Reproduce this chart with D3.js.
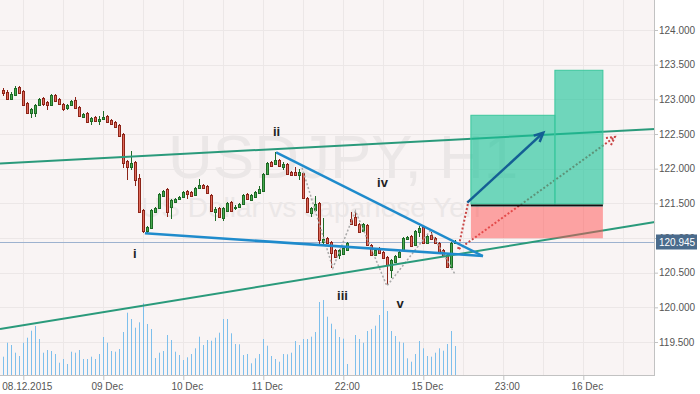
<!DOCTYPE html>
<html>
<head>
<meta charset="utf-8">
<script src="https://d3js.org/d3.v7.min.js"></script>
<style>
  html, body { margin: 0; padding: 0; background: #fff; }
  svg { display: block; font-family: "Liberation Sans", Arial, sans-serif; }
</style>
</head>
<body>
<svg id="chart" width="700" height="394"></svg>
<script>
// USDJPY H1 candles, index 0..113
const candleOpen = [
  123.135,123.106,123.005,123.063,123.178,123.120,122.947,122.803,122.803,122.918,
  123.019,122.962,122.918,123.063,123.005,122.933,122.875,122.918,122.991,122.890,
  122.745,122.803,122.688,122.745,122.688,122.717,122.760,122.702,122.673,122.630,
  122.500,122.111,122.024,122.096,121.866,121.404,121.101,121.144,121.375,121.433,
  121.606,121.707,121.447,121.519,121.563,121.592,121.678,121.664,121.620,121.721,
  121.765,121.750,121.620,121.375,121.433,121.289,121.390,121.519,121.433,121.447,
  121.490,121.635,121.548,121.592,121.649,121.678,121.923,122.096,122.067,122.125,
  122.024,122.067,121.952,121.952,121.909,121.938,121.577,121.361,121.404,121.505,
  120.942,121.000,120.942,120.827,120.755,120.769,120.827,121.274,121.303,121.202,
  121.101,121.187,120.899,120.755,120.856,120.798,120.726,120.539,120.654,120.726,
  120.827,120.986,121.029,120.899,121.087,121.159,120.928,121.043,121.000,120.928,
  120.827,120.755,120.582,120.928
];
const candleHigh = [
  123.164,123.135,123.106,123.193,123.193,123.135,122.962,122.875,122.933,123.019,
  123.034,122.976,123.077,123.077,123.019,122.947,122.933,122.991,123.034,122.904,
  122.803,122.818,122.745,122.760,122.760,122.832,122.774,122.717,122.688,122.645,
  122.515,122.125,122.255,122.111,121.923,121.418,121.173,121.418,121.447,121.649,
  121.693,121.721,121.563,121.577,121.606,121.678,121.693,121.678,121.736,121.851,
  121.779,121.765,121.635,121.447,121.447,121.447,121.519,121.534,121.476,121.505,
  121.635,121.649,121.635,121.678,121.750,121.938,122.096,122.111,122.240,122.140,
  122.096,122.082,121.967,122.024,121.995,121.952,121.592,121.447,121.606,121.519,
  121.289,121.015,120.957,120.841,120.841,120.870,120.942,121.375,121.375,121.216,
  121.216,121.202,120.914,120.841,120.870,120.812,120.740,120.697,120.755,120.812,
  121.015,121.029,121.043,121.115,121.173,121.173,121.043,121.087,121.015,120.942,
  120.841,120.769,120.942,120.971
];
const candleLow = [
  123.048,122.991,122.991,123.048,123.077,122.904,122.789,122.731,122.745,122.904,
  122.904,122.846,122.904,122.962,122.918,122.832,122.846,122.904,122.861,122.745,
  122.731,122.659,122.630,122.673,122.630,122.702,122.659,122.630,122.587,122.457,
  122.010,121.837,121.981,121.750,121.361,121.072,121.072,121.130,121.361,121.418,
  121.592,121.303,121.274,121.505,121.548,121.577,121.563,121.592,121.606,121.707,
  121.707,121.635,121.375,121.245,121.289,121.245,121.375,121.375,121.404,121.433,
  121.476,121.548,121.534,121.577,121.635,121.664,121.909,122.024,122.053,122.024,
  121.981,121.909,121.894,121.894,121.837,121.563,121.361,121.303,121.390,120.899,
  120.899,120.914,120.567,120.712,120.697,120.755,120.812,121.187,121.173,121.072,
  121.087,120.885,120.740,120.740,120.769,120.697,120.322,120.423,120.640,120.712,
  120.812,120.971,120.870,120.885,121.015,120.914,120.914,120.971,120.914,120.784,
  120.740,120.567,120.567,120.914
];
const candleClose = [
  123.092,123.005,123.077,123.164,123.092,122.918,122.803,122.861,122.918,123.005,
  122.933,122.918,123.063,122.976,122.933,122.861,122.918,122.976,122.875,122.760,
  122.789,122.673,122.731,122.688,122.717,122.745,122.673,122.645,122.601,122.471,
  122.082,122.024,122.082,121.837,121.375,121.101,121.159,121.404,121.433,121.635,
  121.678,121.375,121.548,121.563,121.592,121.664,121.635,121.606,121.721,121.765,
  121.721,121.649,121.390,121.418,121.303,121.433,121.505,121.390,121.447,121.490,
  121.620,121.563,121.620,121.664,121.707,121.923,122.082,122.039,122.125,122.039,
  122.067,121.923,121.909,121.909,121.952,121.577,121.375,121.433,121.490,120.971,
  120.986,120.928,120.784,120.726,120.827,120.856,120.928,121.202,121.187,121.087,
  121.202,120.899,120.755,120.827,120.784,120.712,120.611,120.683,120.740,120.798,
  121.000,121.015,120.885,121.101,121.144,120.928,121.029,120.986,120.928,120.798,
  120.755,120.582,120.928,120.945
];
const tickVolume = [
  183,323,300,223,190,323,373,443,490,360,
  223,250,240,210,123,160,110,233,223,250,
  160,160,183,160,210,380,323,240,233,260,
  430,623,560,473,527,717,510,460,170,223,
  240,400,350,233,200,150,177,210,267,383,
  300,350,343,373,423,560,560,417,310,307,
  200,210,117,167,210,360,293,190,160,133,
  210,207,223,340,300,360,360,383,430,730,
  750,583,513,457,380,363,110,0,400,360,
  323,440,460,493,600,750,640,440,390,333,
  323,167,133,210,340,267,190,183,223,267,
  243,310,440,290
];

const lastPrice = 120.945;
const priceTicks = [119.5, 120, 120.5, 121, 121.5, 122, 122.5, 123, 123.5, 124];
const timeTickIdx = [5, 25, 45, 65, 85, 105, 125, 145];
const timeTickLabels = ['08.12.2015', '09 Dec', '10 Dec', '11 Dec', '22:00', '15 Dec', '23:00', '16 Dec'];
const gridIdx = d3.range(5, 160, 10);

// drawn objects: [index, price]
const greenUpper = [[-0.825, 122.074], [162.925, 122.572]];
const greenLower = [[-0.825, 119.688], [162.925, 121.231]];
const blueLower = [[35.4, 121.068], [119.9, 120.740]];
const blueUpper = [[68.2, 122.236], [119.9, 120.740]];
const waveZigzag = [[74.7, 122.010], [82.4, 120.567], [88.05, 121.389], [95.9, 120.308], [106.7, 121.101], [112.9, 120.481]];
const redPathUp = [[113.7, 120.841], [116.3, 121.533]];
const redPathLong = [[113.9, 120.841], [152.9, 122.457]];
const blueArrow = [[116.0, 121.510], [135.0, 122.519]];
const tpBoxes = [[116.9, 137.9, 121.490, 122.770], [137.9, 149.9, 121.490, 123.419]];
const slBox = [116.9, 149.9, 120.996, 121.447];
const entryPrice = 121.469;

const waveLabels = ['i', 'ii', 'iii', 'iv', 'v'];
const waveIdx = [32.9, 68.3, 84.8, 94.8, 99.2];
const wavePrice = [120.712, 122.471, 120.106, 121.736, 119.990];

const candles = candleOpen.map((o, i) => ({
  i, open: o, high: candleHigh[i], low: candleLow[i], close: candleClose[i], volume: tickVolume[i]
}));

const plot = { left: 0, right: 655, top: 0, bottom: 375 };

const x = d3.scaleLinear().domain([-0.825, 162.925]).range([plot.left, plot.right]);
const y = d3.scaleLinear().domain([119.5, 124]).range([342, 30]);
const yVol = d3.scaleLinear().domain([0, 1000]).range([plot.bottom, plot.bottom - 100]);

const svg = d3.select('#chart');

svg.append('rect').attr('width', 700).attr('height', 394).attr('fill', '#fff');
svg.append('rect')
  .attr('x', plot.left).attr('y', plot.top)
  .attr('width', plot.right - plot.left).attr('height', plot.bottom - plot.top)
  .attr('fill', '#f9f4f4');

// grid
const grid = svg.append('g').attr('stroke', '#ece7e7').attr('stroke-width', 1);
grid.selectAll('line.h').data(priceTicks).join('line')
  .attr('class', 'h')
  .attr('x1', plot.left).attr('x2', plot.right)
  .attr('y1', d => Math.round(y(d)) + 0.5).attr('y2', d => Math.round(y(d)) + 0.5);
grid.selectAll('line.v').data(gridIdx).join('line')
  .attr('class', 'v')
  .attr('y1', plot.top).attr('y2', plot.bottom)
  .attr('x1', d => Math.round(x(d)) + 0.5).attr('x2', d => Math.round(x(d)) + 0.5);

// watermark
svg.append('text').attr('x', 168).attr('y', 178)
  .attr('font-size', 62).attr('fill', '#ebe7e7').text('USDJPY, H1');
svg.append('text').attr('x', 141).attr('y', 217)
  .attr('font-size', 28).attr('fill', '#ebe7e7').text('US Dollar vs Japanese Yen');

// volume
svg.append('g').selectAll('line').data(candles.filter(d => d.volume > 0)).join('line')
  .attr('x1', d => Math.round(x(d.i)) + 0.5).attr('x2', d => Math.round(x(d.i)) + 0.5)
  .attr('y1', yVol(0)).attr('y2', d => yVol(d.volume))
  .attr('stroke', '#7dbfec').attr('stroke-width', 1);

// last price line
svg.append('line')
  .attr('x1', plot.left).attr('x2', plot.right)
  .attr('y1', Math.round(y(lastPrice)) + 0.5).attr('y2', Math.round(y(lastPrice)) + 0.5)
  .attr('stroke', '#9db2cf').attr('stroke-width', 1);

// candles
const upFill = '#47a94e', upLine = '#1d6a25', dnFill = '#df6a5b', dnLine = '#8d2418';
const cg = svg.append('g').selectAll('g').data(candles).join('g');
cg.append('line')
  .attr('x1', d => Math.round(x(d.i)) + 0.5).attr('x2', d => Math.round(x(d.i)) + 0.5)
  .attr('y1', d => Math.round(y(d.high))).attr('y2', d => Math.round(y(d.low)))
  .attr('stroke', d => d.close >= d.open ? upLine : dnLine);
cg.append('rect')
  .attr('x', d => Math.round(x(d.i)) - 0.5)
  .attr('y', d => Math.round(y(Math.max(d.open, d.close))) + 0.5)
  .attr('width', 2)
  .attr('height', d => Math.max(1, Math.round(y(Math.min(d.open, d.close))) - Math.round(y(Math.max(d.open, d.close)))))
  .attr('fill', d => d.close >= d.open ? upFill : dnFill)
  .attr('stroke', d => d.close >= d.open ? upLine : dnLine);

const line = d3.line().x(d => x(d[0])).y(d => y(d[1]));

// wave zigzag
svg.append('path').attr('d', line(waveZigzag))
  .attr('fill', 'none').attr('stroke', '#a9a9a9').attr('stroke-width', 1.5).attr('stroke-dasharray', '2,2');

// channels
[greenUpper, greenLower].forEach(p => svg.append('path').attr('d', line(p))
  .attr('fill', 'none').attr('stroke', '#2a9a7b').attr('stroke-width', 2));

// red dotted paths
const redDot = '#c94545';
[redPathUp, redPathLong].forEach(p => svg.append('path').attr('d', line(p))
  .attr('fill', 'none').attr('stroke', redDot).attr('stroke-width', 2).attr('stroke-dasharray', '2,2'));

function arrowHead(p, len, spread) {
  const x0 = x(p[0][0]), y0 = y(p[0][1]), x1 = x(p[1][0]), y1 = y(p[1][1]);
  const a = Math.atan2(y1 - y0, x1 - x0);
  return [
    [x1 - len * Math.cos(a - spread), y1 - len * Math.sin(a - spread)],
    [x1, y1],
    [x1 - len * Math.cos(a + spread), y1 - len * Math.sin(a + spread)]
  ];
}
svg.append('path').attr('d', d3.line()(arrowHead(redPathLong, 9, 0.5)))
  .attr('fill', 'none').attr('stroke', redDot).attr('stroke-width', 2).attr('stroke-dasharray', '2,2');

// stop box and targets
svg.append('rect')
  .attr('x', x(slBox[0])).attr('width', x(slBox[1]) - x(slBox[0]))
  .attr('y', y(slBox[3])).attr('height', y(slBox[2]) - y(slBox[3]))
  .attr('fill', 'rgba(255,80,80,0.5)');
svg.selectAll('rect.tp').data(tpBoxes).join('rect')
  .attr('class', 'tp')
  .attr('x', d => x(d[0])).attr('width', d => x(d[1]) - x(d[0]))
  .attr('y', d => y(d[3])).attr('height', d => y(d[2]) - y(d[3]))
  .attr('fill', 'rgba(26,196,151,0.62)').attr('stroke', '#3cc79d').attr('stroke-width', 1);
svg.append('line')
  .attr('x1', x(slBox[0])).attr('x2', x(slBox[1]))
  .attr('y1', y(entryPrice)).attr('y2', y(entryPrice))
  .attr('stroke', '#111').attr('stroke-width', 2);

// triangle lines
[blueUpper, blueLower].forEach(p => svg.append('path').attr('d', line(p))
  .attr('fill', 'none').attr('stroke', '#1f8bcc').attr('stroke-width', 2.5));

// blue arrow
svg.append('path').attr('d', line(blueArrow))
  .attr('fill', 'none').attr('stroke', '#145f94').attr('stroke-width', 2.5);
svg.append('path').attr('d', d3.line()(arrowHead(blueArrow, 10, 0.45)))
  .attr('fill', 'none').attr('stroke', '#145f94').attr('stroke-width', 2.5);

// wave labels
svg.append('g').selectAll('text').data(waveLabels).join('text')
  .attr('x', (d, k) => x(waveIdx[k])).attr('y', (d, k) => y(wavePrice[k]))
  .attr('text-anchor', 'middle').attr('font-size', 13).attr('font-weight', 'bold')
  .attr('fill', '#222').text(d => d);

// axes
const axisColor = '#c2c2c2';
const yAxis = svg.append('g').attr('transform', `translate(${plot.right - 1},0)`)
  .call(d3.axisRight(y).tickValues(priceTicks).tickFormat(d3.format('.3f')).tickSize(4).tickPadding(1));
const xAxis = svg.append('g').attr('transform', `translate(0,${plot.bottom})`)
  .call(d3.axisBottom(x).tickValues(timeTickIdx).tickFormat((d, k) => timeTickLabels[k]).tickSize(5).tickPadding(3));
[yAxis, xAxis].forEach(a => {
  a.select('.domain').remove();
  a.selectAll('line').attr('stroke', axisColor);
  a.selectAll('text').attr('fill', '#555').attr('font-size', 10).attr('font-family', '"Liberation Sans", Arial, sans-serif');
});
xAxis.selectAll('text').attr('dx', 3.5);
svg.append('line').attr('x1', plot.right - 0.5).attr('x2', plot.right - 0.5)
  .attr('y1', plot.top).attr('y2', plot.bottom + 0.5).attr('stroke', axisColor);
svg.append('line').attr('x1', plot.left).attr('x2', plot.right)
  .attr('y1', plot.bottom + 0.5).attr('y2', plot.bottom + 0.5).attr('stroke', axisColor);

// last price label
const ly = Math.round(y(lastPrice));
svg.append('rect').attr('x', 656).attr('y', ly - 7.5).attr('width', 41).attr('height', 15).attr('fill', '#4a6b8c');
svg.append('text').attr('x', 659).attr('y', ly + 4)
  .attr('font-size', 10).attr('fill', '#fff').text(d3.format('.3f')(lastPrice));
</script>
</body>
</html>
